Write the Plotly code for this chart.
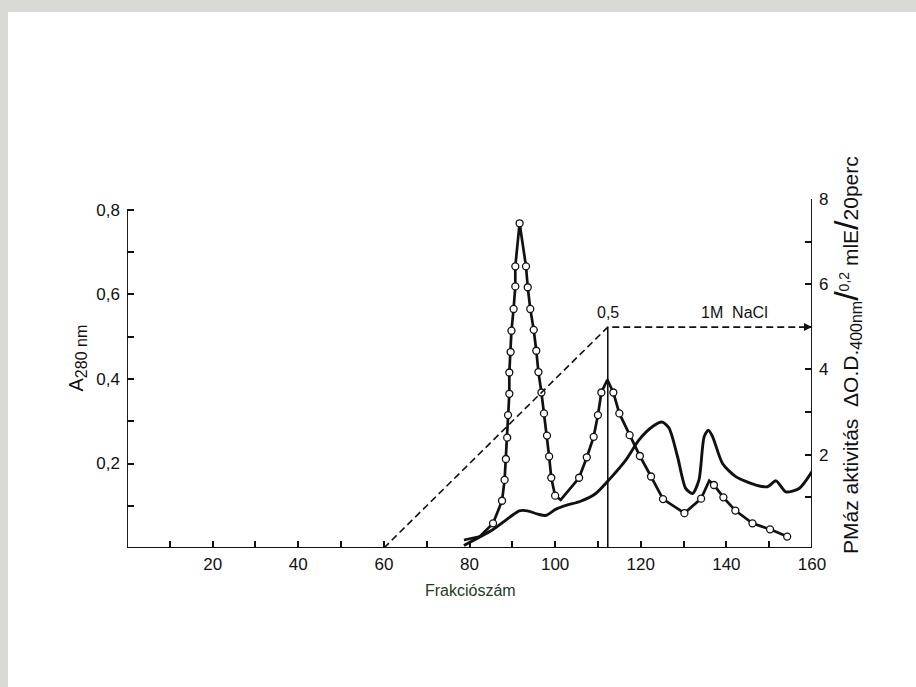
import plotly.graph_objects as go

# A280 nm absorbance, continuous UV record (fraction number, absorbance)
a280_x = [78.7, 82.0, 85.4, 88.5, 91.6, 93.5, 96.0, 97.8, 100.2, 102.9, 105.8,
          109.5, 113.0, 116.5, 119.6, 122.7, 125.0, 126.6, 128.6, 130.5, 132.1,
          133.6, 134.8, 135.8, 136.8, 139.1, 142.2, 146.9, 149.6, 151.6, 153.9,
          157.0, 160.0]
a280_y = [0.006, 0.024, 0.043, 0.066, 0.088, 0.088, 0.080, 0.077, 0.092, 0.102,
          0.110, 0.129, 0.166, 0.208, 0.256, 0.287, 0.298, 0.284, 0.216, 0.141,
          0.129, 0.161, 0.263, 0.279, 0.263, 0.200, 0.169, 0.149, 0.145, 0.159,
          0.133, 0.141, 0.181]

# PMase activity, delta O.D. 400 nm / 0,2 ml E / 20 perc
act_x = [78.7, 82.4, 85.5, 87.6, 88.2, 88.5, 88.8, 89.0, 89.3, 89.3, 89.6, 89.8,
         90.3, 90.7, 90.7, 91.7, 93.2, 93.6, 94.2, 95.0, 95.6, 96.1, 96.8, 97.4,
         98.1, 98.6, 99.1, 100.0, 101.3, 105.6, 107.4, 109.0, 110.0, 110.8, 112.2,
         113.6, 115.0, 117.4, 119.8, 122.4, 125.2, 130.2, 134.1, 136.0, 137.1,
         139.3, 142.1, 146.1, 150.2, 154.2]
act_y = [0.0, 0.08, 0.39, 0.92, 1.41, 1.90, 2.40, 2.93, 3.43, 3.93, 4.41, 4.91,
         5.42, 5.95, 6.42, 7.43, 6.42, 5.93, 5.42, 4.93, 4.44, 3.94, 3.46, 2.97,
         2.45, 1.96, 1.46, 1.04, 0.94, 1.46, 1.94, 2.42, 2.93, 3.46, 3.76,
         3.46, 2.97, 2.46, 1.97, 1.49, 0.96, 0.63, 0.97, 1.39, 1.29,
         1.00, 0.69, 0.39, 0.25, 0.08]
# 1 = measured fraction (open circle), 0 = curve vertex only
act_measured = [0, 0, 1, 1, 1, 1, 1, 1, 1, 1, 1, 1,
                1, 1, 1, 1, 1, 1, 1, 1, 1, 1, 1, 1,
                1, 1, 1, 1, 0, 1, 1, 1, 1, 1, 0,
                1, 1, 1, 1, 1, 1, 1, 1, 0, 1,
                1, 1, 1, 1, 1]

# NaCl gradient (M): linear from fraction 60 to 0,5 M at fraction 112
grad_x = [60, 112.3, 156.6]
grad_m = [0.0, 0.5, 0.5]

x_ticks = [20, 40, 60, 80, 100, 120, 140, 160]
x_text = ["20", "40", "60", "80", "100", "120", "140", "160"]
x_minor = [10, 30, 50, 70, 90, 110, 130, 150]
yl_ticks = [0.2, 0.4, 0.6, 0.8]
yl_text = ["0,2", "0,4", "0,6", "0,8"]
yl_minor = [0.1, 0.3, 0.5, 0.7]
yr_ticks = [2, 4, 6, 8]
yr_text = ["2", "4", "6", "8"]
yr_minor = [1, 3, 5, 7]

FONT = "Liberation Sans"
INK = "#111111"

fig = go.Figure()

fig.add_trace(go.Scatter(
    x=a280_x, y=a280_y, mode="lines",
    line=dict(color=INK, width=2.9, shape="spline", smoothing=0.7),
    yaxis="y", hoverinfo="skip"))

# activity line, then open circles on the measured fractions
fig.add_trace(go.Scatter(
    x=act_x, y=act_y, mode="lines",
    line=dict(color=INK, width=2.7),
    yaxis="y2", hoverinfo="skip"))
fig.add_trace(go.Scatter(
    x=[x for x, m in zip(act_x, act_measured) if m],
    y=[y for y, m in zip(act_y, act_measured) if m],
    mode="markers",
    marker=dict(size=7, color="white", line=dict(color=INK, width=1.3)),
    yaxis="y2", hoverinfo="skip"))

fig.add_trace(go.Scatter(
    x=grad_x, y=grad_m, mode="lines",
    line=dict(color=INK, width=1.6, dash="7px,4px"),
    yaxis="y3", hoverinfo="skip"))

# vertical marker at the start of the 1M NaCl step
fig.add_trace(go.Scatter(
    x=[grad_x[1], grad_x[1]], y=[0, grad_m[1]], mode="lines",
    line=dict(color=INK, width=1.6),
    yaxis="y3", hoverinfo="skip"))


def axis_style(minor_vals):
    return dict(showgrid=False, zeroline=False, showline=False,
                ticks="inside", ticklen=7, tickwidth=1.5, tickcolor=INK,
                tickfont=dict(family=FONT, size=17, color=INK),
                minor=dict(tickvals=minor_vals, ticks="inside", ticklen=7,
                           tickwidth=1.5, tickcolor=INK, showgrid=False))


fig.update_layout(
    width=916, height=687,
    margin=dict(l=127, r=104, t=199, b=139),
    paper_bgcolor="#d9d9d5", plot_bgcolor="white",
    showlegend=False,
    xaxis=dict(range=[0, 160], tickvals=x_ticks, ticktext=x_text,
               ticklabelstandoff=4, **axis_style(x_minor)),
    yaxis=dict(range=[0, 0.826], tickvals=yl_ticks, ticktext=yl_text,
               ticklabelstandoff=6, **axis_style(yl_minor)),
    yaxis2=dict(range=[-0.188, 8], tickvals=yr_ticks, ticktext=yr_text,
                overlaying="y", side="right", ticklabelstandoff=6,
                **axis_style(yr_minor)),
    yaxis3=dict(range=[0, 0.79], overlaying="y", visible=False),
)

# sheet of paper and axis frame lines
PW, PH = 685.0, 349.0
fig.add_shape(type="rect", xref="paper", yref="paper",
              x0=(8 - 127) / PW, x1=(916 - 127) / PW,
              y0=(548 - 700) / PH, y1=(548 - 12) / PH,
              fillcolor="white", line_width=0, layer="below")
fig.add_shape(type="line", xref="x", yref="y", x0=0, x1=0, y0=0, y1=0.8,
              line=dict(color=INK, width=1.9))
fig.add_shape(type="line", xref="x", yref="y", x0=0, x1=160, y0=0, y1=0,
              line=dict(color=INK, width=1.9))
fig.add_shape(type="line", xref="x", yref="paper", x0=160, x1=160, y0=0, y1=1,
              line=dict(color=INK, width=1.9))

# arrow for the 1M NaCl step
fig.add_annotation(x=160, y=grad_m[2], xref="x", yref="y3",
                   ax=grad_x[2], ay=grad_m[2], axref="x", ayref="y3",
                   showarrow=True, arrowhead=2, arrowsize=1, arrowwidth=1.6,
                   arrowcolor=INK, text="")

fig.add_annotation(x=grad_x[1], y=0.51, xref="x", yref="y3", text="0,5",
                   showarrow=False, yanchor="bottom",
                   font=dict(family=FONT, size=16, color=INK))
fig.add_annotation(x=142, y=0.51, xref="x", yref="y3", text="1M  NaCl",
                   showarrow=False, yanchor="bottom",
                   font=dict(family=FONT, size=16, color=INK))

fig.add_annotation(x=80.2, y=(548 - 601) / PH, xref="x", yref="paper",
                   text="Frakciószám", showarrow=False,
                   font=dict(family=FONT, size=16, color="#1d3b24"))

fig.add_annotation(x=(62 - 127) / PW, y=(548 - 358) / PH, xref="paper", yref="paper",
                   text="A<sub><span style='font-size:16px'>280 nm</span></sub>",
                   textangle=-90, showarrow=False,
                   font=dict(family=FONT, size=20, color=INK))

slash = "<span style='font-size:34px'>/</span>"
fig.add_annotation(x=(867 - 127) / PW, y=(548 - 355) / PH, xref="paper", yref="paper",
                   text="PMáz aktivitás  ΔO.D.<sub><span style='font-size:16px'>400nm</span></sub>"
                        + slash + "<sup><span style='font-size:14px'>0,2</span></sup> mlE"
                        + slash + "20perc",
                   textangle=-90, showarrow=False,
                   font=dict(family=FONT, size=21, color=INK))

fig.write_html("out.html")
